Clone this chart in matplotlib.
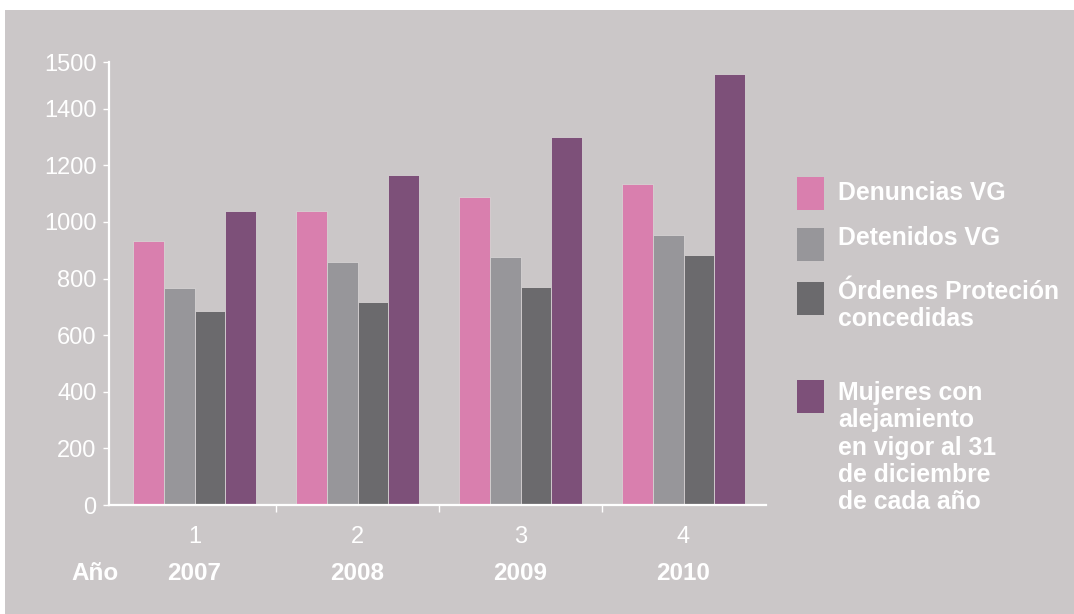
import matplotlib
matplotlib.use("Agg")
import matplotlib.pyplot as plt
from matplotlib.patches import Rectangle
import numpy as np

plt.rcParams['font.family'] = ['Liberation Sans', 'DejaVu Sans']

# ---- data ----
group_labels = ["1", "2", "3", "4"]
years = ["2007", "2008", "2009", "2010"]
series_names = ["Denuncias VG", "Detenidos VG", "Órdenes Proteción\nconcedidas",
                "Mujeres con\nalejamiento\nen vigor al 31\nde diciembre\nde cada año"]
denuncias = [932, 1040, 1087, 1134]
detenidos = [767, 860, 877, 954]
ordenes = [687, 718, 771, 883]
mujeres = [1040, 1166, 1301, 1523]
ytick_values = [0, 200, 400, 600, 800, 1000, 1200, 1400, 1565]
ytick_labels = ["0", "200", "400", "600", "800", "1000", "1200", "1400", "1500"]

colors = ["#d97fae", "#97969a", "#6b6a6d", "#7d5079"]
bg = "#cbc7c8"
W, H = 1074, 614

fig = plt.figure(figsize=(W / 100, H / 100), dpi=100)
fig.patch.set_facecolor("white")
fig.add_artist(Rectangle((5 / W, 0), 1 - 5 / W, (H - 10) / H, transform=fig.transFigure,
                         facecolor=bg, edgecolor="none", zorder=0))

ax = fig.add_axes([109 / W, 1 - 505 / H, (766 - 109) / W, (505 - 62) / H])
ax.set_facecolor("none")

x = np.arange(len(group_labels))
bw = 0.1887
all_series = [denuncias, detenidos, ordenes, mujeres]
for i, (vals, c) in enumerate(zip(all_series, colors)):
    ax.bar(x + (i - 1.5) * bw, vals, width=bw, color=c, edgecolor="#d6d2d3",
           linewidth=0.6, zorder=2)

ax.set_xlim(-0.525, 3.506)
ax.set_ylim(0, 1565)

for s in ["top", "right"]:
    ax.spines[s].set_visible(False)
for s in ["left", "bottom"]:
    ax.spines[s].set_color("white")
    ax.spines[s].set_linewidth(1.6)

ax.set_yticks(ytick_values)
ax.set_yticklabels(ytick_labels)
ax.tick_params(axis="y", colors="white", length=4, width=1, labelsize=17, pad=5)

ax.set_xticks(x)
ax.set_xticklabels(group_labels)
ax.tick_params(axis="x", which="major", length=0, colors="white", labelsize=17, pad=15)
ax.set_xticks([0.5, 1.5, 2.5], minor=True)
ax.tick_params(axis="x", which="minor", length=5, width=1, colors="white")

# year labels
for xi, yr in zip(x, years):
    ax.text(xi, -(573 - 505) / 443, yr, transform=ax.get_xaxis_transform(), ha="center",
            va="center", color="white", fontsize=17.5, fontweight="bold")
fig.text(95 / W, 1 - 573 / H, "Año", ha="center", va="center", color="white",
         fontsize=17.5, fontweight="bold")

# legend (manual)
patch_tops = [177, 228, 282, 380]
first_line_centers = [193, 238, 292, 393]
line_step = 27.3
for c, name, pt, yc in zip(colors, series_names, patch_tops, first_line_centers):
    fig.add_artist(Rectangle((797 / W, 1 - (pt + 33) / H), 27 / W, 33 / H,
                             transform=fig.transFigure, facecolor=c, edgecolor="none"))
    for k, line in enumerate(name.split("\n")):
        fig.text(838 / W, 1 - (yc + k * line_step) / H, line, ha="left", va="center",
                 color="white", fontsize=17.8, fontweight="bold")

fig.savefig("out.png", dpi=100, facecolor=fig.get_facecolor())
